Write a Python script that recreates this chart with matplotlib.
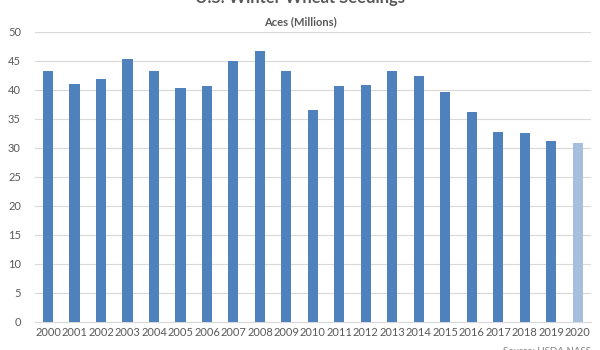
import matplotlib.pyplot as plt
import numpy as np

years = [str(y) for y in range(2000, 2021)]
acres = [43.3, 41.0, 41.8, 45.4, 43.3, 40.4, 40.6, 45.0, 46.7, 43.2, 36.6,
         40.6, 40.9, 43.2, 42.4, 39.7, 36.2, 32.8, 32.5, 31.2, 30.8]
bar_colors = ['#4F81BD'] * 20 + ['#A7BFDE']

plt.rcParams['font.family'] = ['Lato', 'DejaVu Sans']

fig = plt.figure(figsize=(6, 3.5), dpi=100)
ax = fig.add_axes([0.058, 0.08, 0.927, 0.829])

x = np.arange(len(years))
ax.bar(x, acres, width=0.38, color=bar_colors, zorder=3)

ax.set_xlim(-0.5, len(years) - 0.5)
ax.set_ylim(0, 50)
ax.set_yticks(range(0, 51, 5))
ax.set_xticks(x)
ax.set_xticklabels(years)
ax.tick_params(axis='both', length=0, labelsize=8, colors='#595959')
ax.tick_params(axis='y', pad=10)
ax.grid(axis='y', color='#D9D9D9', linewidth=0.8, zorder=0)
for s in ['top', 'right', 'left']:
    ax.spines[s].set_visible(False)
ax.spines['bottom'].set_color('#D9D9D9')

fig.text(0.5, 1.005, 'U.S. Winter Wheat Seedings', ha='center', va='center',
         fontsize=12, fontweight='bold', color='#595959')
fig.text(0.5, 0.937, 'Aces (Millions)', ha='center', va='center',
         fontsize=8, fontweight='bold', color='#595959')
fig.text(0.985, -0.005, 'Source: USDA NASS', ha='right', va='center',
         fontsize=7, color='#7F7F7F')

fig.savefig('out.png', dpi=100)
